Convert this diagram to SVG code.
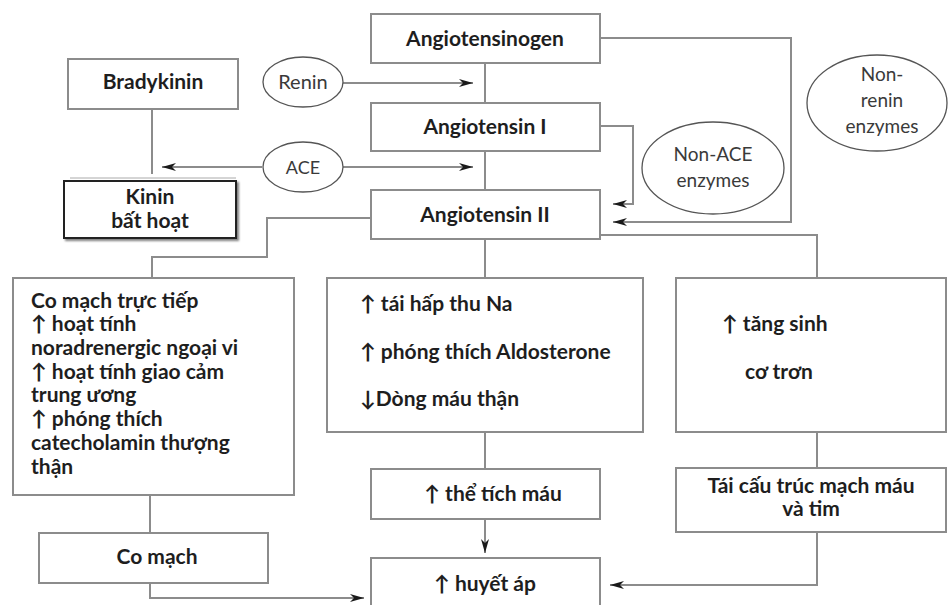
<svg xmlns="http://www.w3.org/2000/svg" width="948" height="605" viewBox="0 0 948 605">
<defs>
<marker id="arr" viewBox="0 0 14 8" refX="14" refY="4" markerWidth="14" markerHeight="8" markerUnits="userSpaceOnUse" orient="auto">
<path d="M0,0 L14,4 L0,8 L4,4 Z" fill="#1a1a1a"/>
</marker>
<filter id="sh" x="-5%" y="-5%" width="115%" height="125%">
<feGaussianBlur in="SourceAlpha" stdDeviation="1.2"/>
<feOffset dx="2" dy="2"/>
<feComponentTransfer><feFuncA type="linear" slope="0.5"/></feComponentTransfer>
<feMerge><feMergeNode/><feMergeNode in="SourceGraphic"/></feMerge>
</filter>
</defs>
<style>
.box{fill:#fff;stroke:#8c8c8c;stroke-width:2}
.ell{fill:#fff;stroke:#555;stroke-width:1.3}
.ln{fill:none;stroke:#8c8c8c;stroke-width:2}
.t{font-family:Lato,"Open Sans","Liberation Sans",sans-serif;font-weight:bold;font-size:21px;fill:#1e1e1e}
.c{text-anchor:middle}
.e{font-family:Lato,"Open Sans","Liberation Sans",sans-serif;font-size:19px;fill:#3a3a3a;text-anchor:middle}
</style>
<rect width="948" height="605" fill="#fff"/>

<g id="connectors">
<line class="ln" x1="485" y1="63" x2="485" y2="103"/>
<line class="ln" x1="485" y1="151" x2="485" y2="190"/>
<line class="ln" x1="343" y1="83" x2="473" y2="83" marker-end="url(#arr)"/>
<line class="ln" x1="343" y1="167" x2="473" y2="167" marker-end="url(#arr)"/>
<line class="ln" x1="262" y1="167" x2="162" y2="167" marker-end="url(#arr)"/>
<line class="ln" x1="152" y1="109" x2="152" y2="174"/>
<polyline class="ln" points="601,38 791,38 791,222 613,222" marker-end="url(#arr)"/>
<polyline class="ln" points="601,126 633,126 633,204 613,204" marker-end="url(#arr)"/>
<polyline class="ln" points="601,235 817,235 817,278"/>
<line class="ln" x1="485" y1="239" x2="485" y2="278"/>
<polyline class="ln" points="371,218 267,218 267,257 152,257 152,278"/>
<line class="ln" x1="485" y1="432" x2="485" y2="469"/>
<line class="ln" x1="485" y1="519" x2="485" y2="553" marker-end="url(#arr)"/>
<line class="ln" x1="150" y1="495" x2="150" y2="533"/>
<polyline class="ln" points="150,583 150,598 364,598" marker-end="url(#arr)"/>
<line class="ln" x1="817" y1="432" x2="817" y2="468"/>
<polyline class="ln" points="817,532 817,585 610,585" marker-end="url(#arr)"/>
</g>

<g id="angiotensinogen">
<rect class="box" x="371" y="14" width="229" height="49"/>
<text class="t c" x="485" y="46">Angiotensinogen</text>
</g>
<g id="bradykinin">
<rect class="box" x="68" y="59" width="170" height="50"/>
<text class="t c" x="153" y="89">Bradykinin</text>
</g>
<g id="renin">
<ellipse class="ell" cx="303" cy="82" rx="40" ry="25"/>
<text class="e" x="303" y="89" style="font-size:20px">Renin</text>
</g>
<g id="angiotensin1">
<rect class="box" x="371" y="103" width="229" height="48"/>
<text class="t c" x="485" y="134">Angiotensin I</text>
</g>
<g id="ace">
<ellipse class="ell" cx="303" cy="167" rx="40" ry="25"/>
<text class="e" x="303" y="174" style="font-size:18px">ACE</text>
</g>
<g id="kinin">
<line x1="70" y1="178" x2="236" y2="178" stroke="#aaa" stroke-width="1"/>
<rect x="64" y="181" width="172" height="57" fill="#fff" stroke="#222" stroke-width="2" filter="url(#sh)"/>
<text class="t c" x="150" y="204">Kinin</text>
<text class="t c" x="150" y="228">bất hoạt</text>
</g>
<g id="angiotensin2">
<rect class="box" x="371" y="190" width="229" height="49"/>
<text class="t c" x="485" y="222">Angiotensin II</text>
</g>
<g id="nonace">
<ellipse class="ell" cx="713" cy="168" rx="71" ry="46"/>
<text class="e" x="713" y="161">Non-ACE</text>
<text class="e" x="713" y="187">enzymes</text>
</g>
<g id="nonrenin">
<ellipse class="ell" cx="877" cy="103" rx="70" ry="48"/>
<text class="e" x="882" y="81">Non-</text>
<text class="e" x="882" y="107">renin</text>
<text class="e" x="882" y="133">enzymes</text>
</g>
<g id="left-effects">
<rect class="box" x="13" y="278" width="281" height="217"/>
<text class="t" x="31" y="308">Co mạch trực tiếp</text>
<text class="t" x="31" y="331">↑ hoạt tính</text>
<text class="t" x="31" y="355">noradrenergic ngoại vi</text>
<text class="t" x="31" y="379">↑ hoạt tính giao cảm</text>
<text class="t" x="31" y="402">trung ương</text>
<text class="t" x="31" y="426">↑ phóng thích</text>
<text class="t" x="31" y="450">catecholamin thượng</text>
<text class="t" x="31" y="474">thận</text>
</g>
<g id="mid-effects">
<rect class="box" x="327" y="278" width="316" height="154"/>
<text class="t" x="360" y="311">↑ tái hấp thu Na</text>
<text class="t" x="360" y="359">↑ phóng thích Aldosterone</text>
<text class="t" x="360" y="406">↓Dòng máu thận</text>
</g>
<g id="right-effects">
<rect class="box" x="676" y="278" width="270" height="154"/>
<text class="t" x="722" y="331">↑ tăng sinh</text>
<text class="t" x="745" y="379">cơ trơn</text>
</g>
<g id="the-tich">
<rect class="box" x="371" y="469" width="229" height="50"/>
<text class="t c" x="493" y="501">↑ thể tích máu</text>
</g>
<g id="tai-cau-truc">
<rect class="box" x="676" y="468" width="270" height="64"/>
<text class="t c" x="811" y="493">Tái cấu trúc mạch máu</text>
<text class="t c" x="811" y="516">và tim</text>
</g>
<g id="co-mach">
<rect class="box" x="39" y="533" width="229" height="50"/>
<text class="t c" x="157" y="564">Co mạch</text>
</g>
<g id="huyet-ap">
<rect class="box" x="371" y="558" width="229" height="60"/>
<text class="t c" x="485" y="591">↑ huyết áp</text>
</g>
</svg>
